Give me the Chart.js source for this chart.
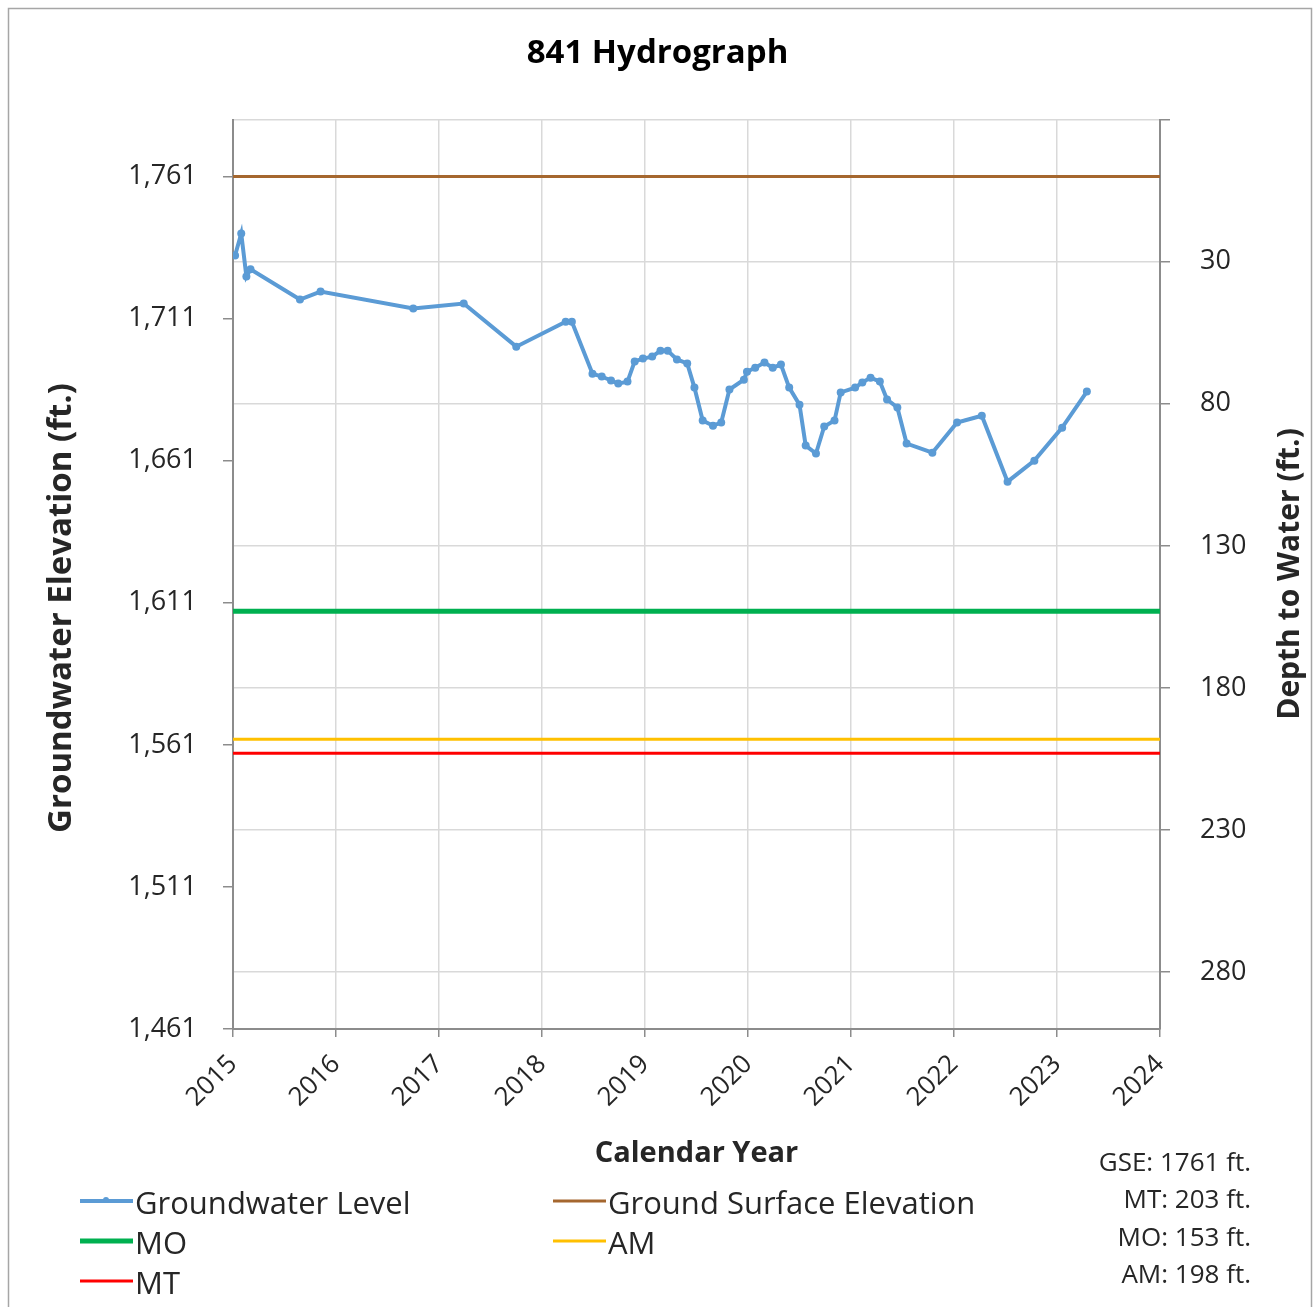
<!DOCTYPE html>
<html>
<head>
<meta charset="utf-8">
<title>841 Hydrograph</title>
<script src="https://cdn.jsdelivr.net/npm/chart.js@4.4.1/dist/chart.umd.min.js"></script>
<style>
  html, body { margin: 0; padding: 0; background: #fff; }
  #wrap { width: 1315px; height: 1307px; position: relative; }
</style>
</head>
<body>
<div id="wrap"><canvas id="hydroCanvas"></canvas></div>
<script>
const sampleDates = [
  2015.02, 2015.08, 2015.13, 2015.17, 2015.65, 2015.85, 2016.75, 2017.24, 2017.75,
  2018.23, 2018.29, 2018.49, 2018.58, 2018.67, 2018.74, 2018.83, 2018.90, 2018.98,
  2019.07, 2019.15, 2019.22, 2019.31, 2019.41, 2019.48, 2019.56, 2019.66, 2019.74,
  2019.82, 2019.96, 2019.99, 2020.07, 2020.16, 2020.24, 2020.32, 2020.40, 2020.50,
  2020.56, 2020.66, 2020.74, 2020.84, 2020.90, 2021.04, 2021.11, 2021.19, 2021.28,
  2021.35, 2021.45, 2021.54, 2021.79, 2022.03, 2022.27, 2022.52, 2022.78, 2023.05,
  2023.29
]
const gwLevels = [
  1733.2, 1740.9, 1725.8, 1728.3, 1717.7, 1720.5, 1714.5, 1716.3, 1701.1,
  1709.9, 1709.9, 1691.6, 1690.6, 1689.2, 1688.1, 1688.8, 1695.9, 1696.9,
  1697.6, 1699.7, 1699.7, 1696.6, 1695.2, 1686.7, 1675.1, 1673.3, 1674.4,
  1686.0, 1689.5, 1692.3, 1693.7, 1695.5, 1693.7, 1694.8, 1686.7, 1680.7,
  1666.3, 1663.5, 1673.0, 1675.1, 1685.0, 1686.7, 1688.5, 1690.2, 1688.8,
  1682.5, 1679.7, 1667.0, 1663.8, 1674.4, 1676.8, 1653.6, 1661.0, 1672.6,
  1685.3
]

const yearTicks = [2015, 2016, 2017, 2018, 2019, 2020, 2021, 2022, 2023, 2024]
const elevTicks = [1461, 1511, 1561, 1611, 1661, 1711, 1761]
const depthTicks = [-20, 30, 80, 130, 180, 230, 280]

// well reference values (ft.)
const gse = 1761
const depthMT = 203
const depthMO = 153
const depthAM = 198

const elevMin = 1461
const elevMax = 1781
const yearMin = 2015
const yearMax = 2024

const textColour = '#262626'
const axisColour = '#8c8c8c'
const gridColour = '#d9d9d9'
const fontName = '"Open Sans", Lato, sans-serif'

function flatLine(value) {
  return [{ x: yearMin, y: value }, { x: yearMax, y: value }]
}

const levelPoints = sampleDates.map((d, i) => ({ x: d, y: gwLevels[i] }))

// legend slots, two columns, row by row
const legendSlots = [[80, 1205], [553, 1205], [80, 1245], [553, 1245], [80, 1285]]

const sheetDecor = {
  id: 'sheetDecor',
  beforeDraw(chart) {
    const ctx = chart.ctx
    ctx.save()
    ctx.fillStyle = '#fff'
    ctx.fillRect(0, 0, chart.width, chart.height)
    ctx.strokeStyle = '#a6a6a6'
    ctx.lineWidth = 1.5
    ctx.strokeRect(8.5, 8.5, 1303, 1310)
    ctx.restore()
  },
  afterDraw(chart) {
    const ctx = chart.ctx
    ctx.save()
    ctx.fillStyle = textColour
    ctx.textAlign = 'center'
    ctx.textBaseline = 'middle'

    // vertical axis titles
    ctx.save()
    ctx.font = 'bold 33px ' + fontName
    ctx.translate(62, 608)
    ctx.rotate(-Math.PI / 2)
    ctx.fillText('Groundwater Elevation (ft.)', 0, 0)
    ctx.restore()
    ctx.save()
    ctx.font = 'bold 30px ' + fontName
    ctx.translate(1290, 574)
    ctx.rotate(-Math.PI / 2)
    ctx.fillText('Depth to Water (ft.)', 0, 0)
    ctx.restore()

    // legend
    ctx.font = '31px ' + fontName
    ctx.textAlign = 'left'
    chart.data.datasets.forEach((ds, i) => {
      const [lx, ly] = legendSlots[i]
      ctx.strokeStyle = ds.borderColor
      ctx.lineWidth = Math.min(ds.borderWidth, 5)
      ctx.beginPath()
      ctx.moveTo(lx, ly - 4)
      ctx.lineTo(lx + 53, ly - 4)
      ctx.stroke()
      if (ds.pointRadius > 0) {
        ctx.fillStyle = ds.borderColor
        ctx.beginPath()
        ctx.arc(lx + 26, ly - 5, 3, 0, Math.PI * 2)
        ctx.fill()
      }
      ctx.fillStyle = textColour
      ctx.fillText(ds.label, lx + 55, ly)
    })

    // reference notes
    ctx.font = '26px ' + fontName
    ctx.textAlign = 'right'
    const notes = [
      'GSE: ' + gse + ' ft.',
      'MT: ' + depthMT + ' ft.',
      'MO: ' + depthMO + ' ft.',
      'AM: ' + depthAM + ' ft.'
    ]
    const noteY = [1164, 1201, 1239, 1276]
    notes.forEach((t, i) => ctx.fillText(t, 1251, noteY[i]))
    ctx.restore()
  }
}

const hydroCanvas = document.getElementById('hydroCanvas')
let hydroChart = new Chart(hydroCanvas, {
  type: 'line',
  data: {
    datasets: [
      {
        label: 'Groundwater Level',
        data: levelPoints,
        borderColor: '#5b9bd5',
        backgroundColor: '#5b9bd5',
        borderWidth: 4,
        pointRadius: 4,
        pointBorderWidth: 0,
        tension: 0,
        yAxisID: 'y'
      },
      {
        label: 'Ground Surface Elevation',
        data: flatLine(gse),
        borderColor: '#a5672f',
        borderWidth: 3,
        pointRadius: 0,
        yAxisID: 'y'
      },
      {
        label: 'MO',
        data: flatLine(gse - depthMO),
        borderColor: '#00b050',
        borderWidth: 5,
        pointRadius: 0,
        yAxisID: 'y'
      },
      {
        label: 'AM',
        data: flatLine(gse - depthAM),
        borderColor: '#ffc000',
        borderWidth: 3,
        pointRadius: 0,
        yAxisID: 'y'
      },
      {
        label: 'MT',
        data: flatLine(gse - depthMT),
        borderColor: '#ff0000',
        borderWidth: 3,
        pointRadius: 0,
        yAxisID: 'y'
      }
    ]
  },
  options: {
    responsive: true,
    maintainAspectRatio: false,
    animation: false,
    layout: { padding: 0 },
    plugins: {
      legend: { display: false },
      tooltip: { enabled: false },
      title: {
        display: true,
        text: '841 Hydrograph',
        color: '#000',
        font: { family: fontName, size: 33, weight: 'bold', lineHeight: 1.2 },
        padding: { top: 34, bottom: 46 }
      }
    },
    scales: {
      x: {
        type: 'linear',
        position: 'bottom',
        min: yearMin,
        max: yearMax,
        afterBuildTicks: s => { s.ticks = yearTicks.map(v => ({ value: v })) },
        afterFit: s => { s.height = 278 },
        ticks: {
          color: textColour,
          font: { family: fontName, size: 26 },
          minRotation: 45,
          maxRotation: 45,
          padding: 12,
          callback: v => String(v)
        },
        grid: { color: gridColour, tickColor: axisColour, tickLength: 8, lineWidth: 1.5 },
        border: { color: axisColour, width: 2 },
        title: {
          display: true,
          text: 'Calendar Year',
          color: textColour,
          font: { family: fontName, size: 29, weight: 'bold', lineHeight: 1.2 },
          padding: { top: 0, bottom: 136 }
        }
      },
      y: {
        type: 'linear',
        position: 'left',
        min: elevMin,
        max: elevMax,
        afterBuildTicks: s => { s.ticks = elevTicks.map(v => ({ value: v })) },
        afterFit: s => { s.width = 233 },
        ticks: {
          color: textColour,
          font: { family: fontName, size: 27 },
          padding: 26,
          callback: v => v.toLocaleString('en-US')
        },
        grid: { drawOnChartArea: false, tickColor: axisColour, tickLength: 10, lineWidth: 1.5 },
        border: { color: axisColour, width: 2 }
      },
      y2: {
        type: 'linear',
        position: 'right',
        reverse: true,
        min: gse - elevMax,
        max: gse - elevMin,
        afterBuildTicks: s => { s.ticks = depthTicks.map(v => ({ value: v })) },
        afterFit: s => { s.width = 155 },
        ticks: {
          color: textColour,
          font: { family: fontName, size: 27 },
          padding: 30,
          callback: v => (v < 0 ? '' : String(v))
        },
        grid: { color: gridColour, tickColor: axisColour, tickLength: 10, lineWidth: 1.5 },
        border: { color: axisColour, width: 2 }
      }
    }
  },
  plugins: [sheetDecor]
})
</script>
</body>
</html>
